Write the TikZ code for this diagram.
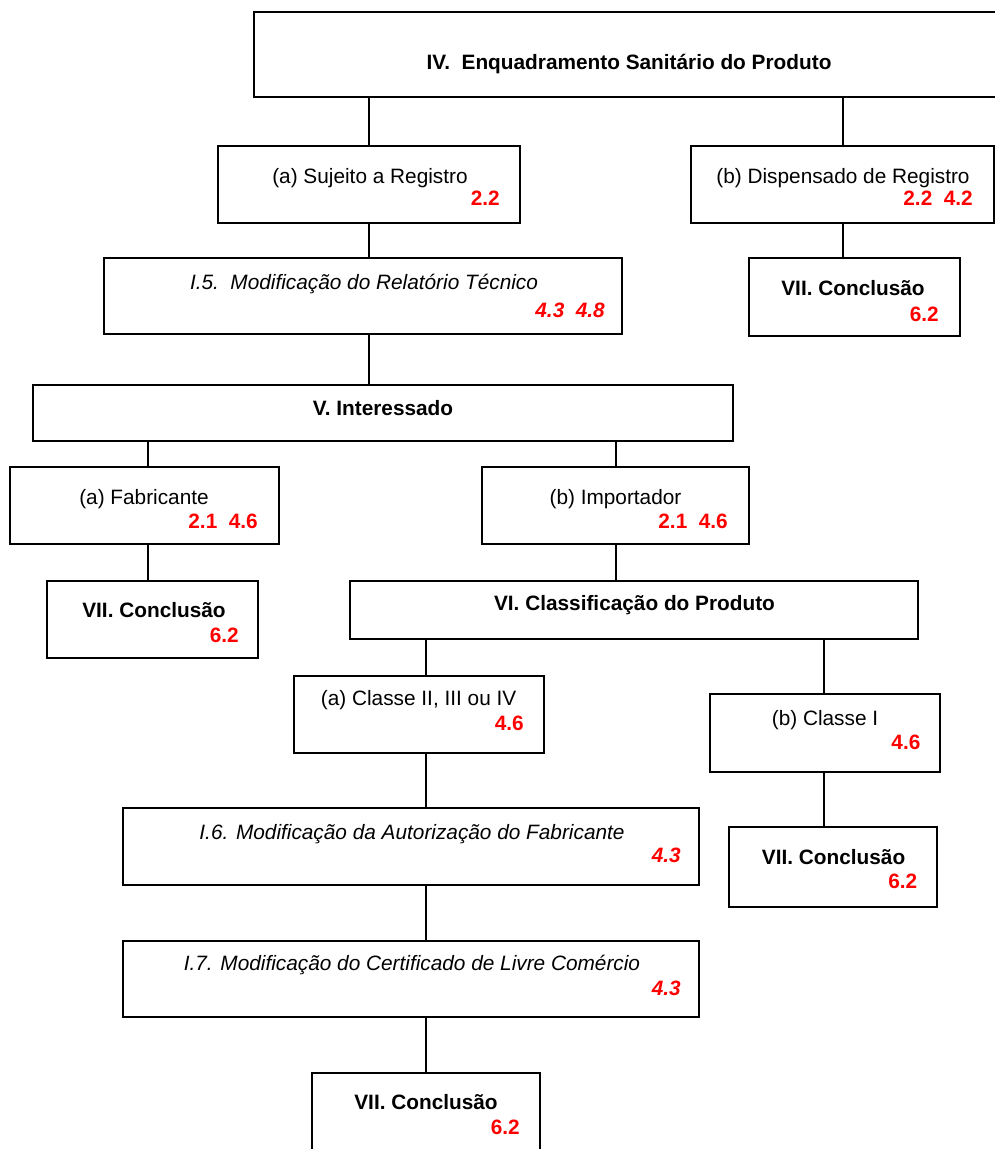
\documentclass[tikz,border=0pt]{standalone}
\usepackage{fontspec}
\setmainfont{Liberation Sans}
\begin{document}
\begin{tikzpicture}[x=1pt,y=-1pt]
\tikzset{
  box/.style={draw, line width=1.6pt, rectangle, inner sep=0pt},
  conn/.style={line width=1.5pt},
  txt/.style={anchor=base, inner sep=0pt, font=\fontsize{20.8}{25}\selectfont},
  btxt/.style={anchor=base, inner sep=0pt, font=\fontsize{20.8}{25}\selectfont\bfseries},
  itxt/.style={anchor=base, inner sep=0pt, font=\fontsize{20.8}{25}\selectfont\itshape},
  reftxt/.style={anchor=base east, inner sep=0pt, text=red, font=\fontsize{20.8}{25}\selectfont\bfseries},
  ireftxt/.style={anchor=base east, inner sep=0pt, text=red, font=\fontsize{20.8}{25}\selectfont\bfseries\itshape},
}
\useasboundingbox (0,0) rectangle (995,1149);
\begin{scope}
\clip (0,0) rectangle (995,1149);
% boxes
\node[box, minimum width=756pt, minimum height=85pt] (iv) at (632,54.5) {};
\node[box, minimum width=302pt, minimum height=77pt] (suj) at (369,184.5) {};
\node[box, minimum width=303pt, minimum height=77pt] (disp) at (842.5,184.5) {};
\node[box, minimum width=518pt, minimum height=76pt] (i5) at (363,296) {};
\node[box, minimum width=211pt, minimum height=78pt] (viia) at (854.5,297) {};
\node[box, minimum width=700pt, minimum height=56pt] (v) at (383,413) {};
\node[box, minimum width=269pt, minimum height=77pt] (fab) at (144.5,505.5) {};
\node[box, minimum width=267pt, minimum height=77pt] (imp) at (615.5,505.5) {};
\node[box, minimum width=211pt, minimum height=77pt] (viib) at (152.5,619.5) {};
\node[box, minimum width=568pt, minimum height=58pt] (vi) at (634,610) {};
\node[box, minimum width=250pt, minimum height=77pt] (cl2) at (419,714.5) {};
\node[box, minimum width=230pt, minimum height=78pt] (cl1) at (825,733) {};
\node[box, minimum width=208pt, minimum height=80pt] (viic) at (833,867) {};
\node[box, minimum width=576pt, minimum height=77pt] (i6) at (411,846.5) {};
\node[box, minimum width=576pt, minimum height=76pt] (i7) at (411,979) {};
\node[box, minimum width=228pt, minimum height=97pt] (viid) at (426,1121.5) {};
% connector x positions
\coordinate (ka) at (369,0);
\coordinate (kb) at (843,0);
\coordinate (kc) at (148,0);
\coordinate (kd) at (616,0);
\coordinate (ke) at (426,0);
\coordinate (kf) at (824,0);
% connectors
\draw[conn] (iv.south -| ka) -- (suj.north -| ka);
\draw[conn] (iv.south -| kb) -- (disp.north -| kb);
\draw[conn] (suj.south -| ka) -- (i5.north -| ka);
\draw[conn] (disp.south -| kb) -- (viia.north -| kb);
\draw[conn] (i5.south -| ka) -- (v.north -| ka);
\draw[conn] (v.south -| kc) -- (fab.north -| kc);
\draw[conn] (v.south -| kd) -- (imp.north -| kd);
\draw[conn] (fab.south -| kc) -- (viib.north -| kc);
\draw[conn] (imp.south -| kd) -- (vi.north -| kd);
\draw[conn] (vi.south -| ke) -- (cl2.north -| ke);
\draw[conn] (vi.south -| kf) -- (cl1.north -| kf);
\draw[conn] (cl1.south -| kf) -- (viic.north -| kf);
\draw[conn] (cl2.south -| ke) -- (i6.north -| ke);
\draw[conn] (i6.south -| ke) -- (i7.north -| ke);
\draw[conn] (i7.south -| ke) -- (viid.north -| ke);
% texts
\node[btxt] (tiv) at (629,69.5) {IV.\ \ Enquadramento Sanitário do Produto};
\node[txt] (tsuj) at (370,183.5) {(a) Sujeito a Registro};
\node[reftxt] (rsuj) at (500,205.5) {2.2};
\node[txt] (tdisp) at (843,183.5) {(b) Dispensado de Registro};
\node[reftxt] (rdisp) at (973,205.5) {2.2\ \ 4.2};
\node[itxt] (ti5) at (364,289.5) {I.5.\ \ Modificação do Relatório Técnico};
\node[ireftxt] (ri5) at (605,317.5) {4.3\ \ 4.8};
\node[btxt] (tviia) at (853,295.5) {VII. Conclusão};
\node[reftxt] (rviia) at (939,321.5) {6.2};
\node[btxt] (tv) at (383,415.5) {V. Interessado};
\node[txt] (tfab) at (144,504) {(a) Fabricante};
\node[reftxt] (rfab) at (258,528.5) {2.1\ \ 4.6};
\node[txt] (timp) at (615.5,504) {(b) Importador};
\node[reftxt] (rimp) at (728,528.5) {2.1\ \ 4.6};
\node[btxt] (tviib) at (154,617.5) {VII. Conclusão};
\node[reftxt] (rviib) at (239,642.5) {6.2};
\node[btxt] (tvi) at (634.5,610.5) {VI. Classificação do Produto};
\node[txt] (tcl2) at (418.6,705.5) {(a) Classe II, III ou IV};
\node[reftxt] (rcl2) at (524,730.5) {4.6};
\node[txt] (tcl1) at (825,725.5) {(b) Classe I};
\node[reftxt] (rcl1) at (920.6,749) {4.6};
\node[btxt] (tviic) at (833.6,864) {VII. Conclusão};
\node[reftxt] (rviic) at (917.5,888) {6.2};
\node[itxt] (ti6) at (412,839) {I.6. Modificação da Autorização do Fabricante};
\node[ireftxt] (ri6) at (681,862.5) {4.3};
\node[itxt] (ti7) at (412,970.5) {I.7. Modificação do Certificado de Livre Comércio};
\node[ireftxt] (ri7) at (681,995.5) {4.3};
\node[btxt] (tviid) at (426,1109) {VII. Conclusão};
\node[reftxt] (rviid) at (520,1134) {6.2};
\end{scope}
\end{tikzpicture}
\end{document}
